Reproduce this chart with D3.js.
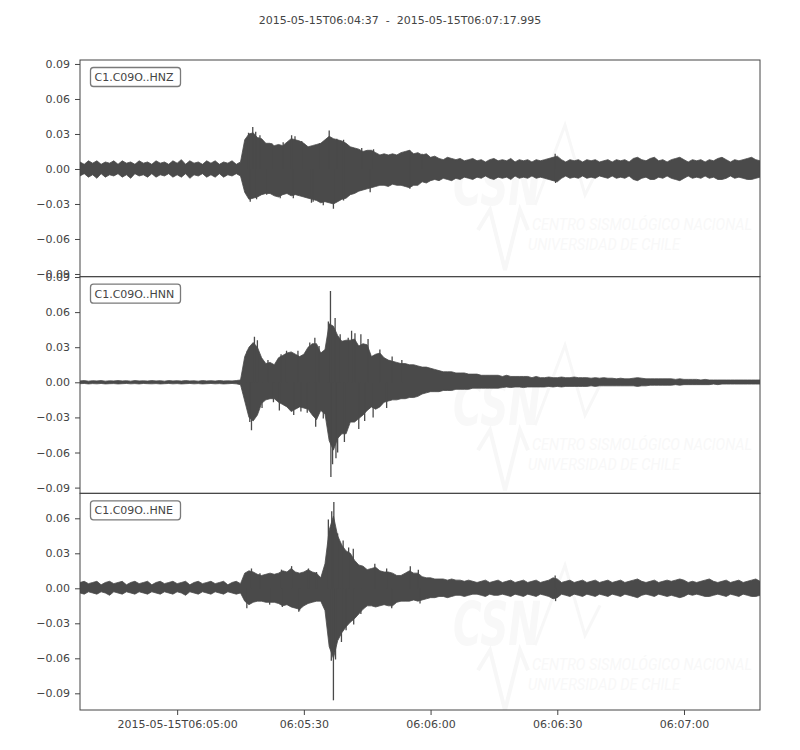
<!DOCTYPE html>
<html>
<head>
<meta charset="utf-8">
<script src="https://cdn.jsdelivr.net/npm/d3@7"></script>
<style>
body{margin:0;background:#fff;}
text{font-family:'DejaVu Sans',sans-serif;}
</style>
</head>
<body>
<div id="canvas"></div>
<script>
// trace window
var startTime = '2015-05-15T06:04:37Z',
    endTime = '2015-05-15T06:07:17.995Z';
var titleText = '2015-05-15T06:04:37  -  2015-05-15T06:07:17.995';
var traceIds = ['C1.C09O..HNZ','C1.C09O..HNN','C1.C09O..HNE'];
var yLimits = [[-0.0923,0.0934],[-0.0949,0.0903],[-0.1043,0.0814]];
var yTicks = [-0.09,-0.06,-0.03,0,0.03,0.06,0.09];
var xTicks = ['2015-05-15T06:05:00Z','2015-05-15T06:05:30Z','2015-05-15T06:06:00Z','2015-05-15T06:06:30Z','2015-05-15T06:07:00Z'];
var step = 1; // seconds between envelope samples

// envelope (max / min per second), m/s^2
var hnzMax = [
0.006,0.004,0.007,0.005,0.007,0.004,0.006,0.005,0.007,0.004,
0.007,0.005,0.006,0.004,0.007,0.005,0.006,0.004,0.007,0.005,
0.006,0.004,0.007,0.005,0.008,0.004,0.007,0.005,0.006,0.004,
0.007,0.005,0.007,0.004,0.006,0.005,0.007,0.004,0.006,0.025,
0.030,0.031,0.027,0.026,0.022,0.022,0.020,0.021,0.020,0.023,
0.026,0.025,0.024,0.022,0.019,0.020,0.021,0.022,0.025,0.028,
0.026,0.025,0.024,0.022,0.019,0.018,0.017,0.015,0.016,0.016,
0.014,0.012,0.013,0.012,0.013,0.012,0.014,0.015,0.016,0.013,
0.014,0.012,0.013,0.010,0.011,0.009,0.008,0.010,0.009,0.008,
0.009,0.007,0.008,0.009,0.007,0.008,0.006,0.008,0.009,0.007,
0.008,0.007,0.009,0.006,0.008,0.007,0.008,0.006,0.008,0.007,
0.008,0.009,0.010,0.011,0.008,0.006,0.008,0.007,0.008,0.006,
0.008,0.007,0.008,0.006,0.007,0.008,0.006,0.008,0.007,0.008,
0.006,0.009,0.010,0.008,0.007,0.009,0.010,0.007,0.008,0.006,
0.008,0.009,0.010,0.008,0.006,0.008,0.007,0.008,0.006,0.008,
0.007,0.009,0.010,0.008,0.006,0.008,0.007,0.008,0.009,0.010,
0.008,0.007];
var hnzMin = [
-0.006,-0.004,-0.007,-0.005,-0.008,-0.004,-0.007,-0.005,-0.006,-0.004,
-0.007,-0.005,-0.008,-0.004,-0.006,-0.005,-0.007,-0.004,-0.007,-0.005,
-0.006,-0.004,-0.007,-0.005,-0.007,-0.004,-0.008,-0.005,-0.006,-0.004,
-0.007,-0.005,-0.007,-0.004,-0.007,-0.005,-0.006,-0.004,-0.006,-0.020,
-0.026,-0.025,-0.024,-0.022,-0.021,-0.021,-0.023,-0.024,-0.022,-0.021,
-0.023,-0.022,-0.023,-0.024,-0.025,-0.026,-0.027,-0.029,-0.028,-0.029,
-0.030,-0.028,-0.026,-0.025,-0.022,-0.021,-0.019,-0.018,-0.017,-0.016,
-0.015,-0.014,-0.014,-0.015,-0.013,-0.014,-0.014,-0.015,-0.016,-0.014,
-0.014,-0.011,-0.012,-0.010,-0.009,-0.010,-0.008,-0.009,-0.010,-0.008,
-0.009,-0.007,-0.008,-0.009,-0.007,-0.008,-0.006,-0.008,-0.009,-0.007,
-0.008,-0.007,-0.009,-0.006,-0.008,-0.007,-0.008,-0.006,-0.008,-0.007,
-0.008,-0.009,-0.010,-0.011,-0.008,-0.006,-0.008,-0.007,-0.008,-0.006,
-0.008,-0.007,-0.008,-0.006,-0.007,-0.008,-0.006,-0.008,-0.007,-0.008,
-0.006,-0.009,-0.010,-0.008,-0.007,-0.009,-0.009,-0.007,-0.008,-0.006,
-0.008,-0.009,-0.010,-0.008,-0.006,-0.008,-0.007,-0.008,-0.006,-0.008,
-0.007,-0.009,-0.009,-0.008,-0.006,-0.008,-0.007,-0.008,-0.009,-0.009,
-0.008,-0.007];
var hnzSpikes = [[39.9,0.031],[40.3,-0.028],[40.9,0.036],[41.6,0.032],[41.8,-0.026],[42.6,0.029],
  [44.2,-0.022],[45.4,0.022],[47.4,-0.025],[48.1,0.023],[50.1,0.029],[50.5,-0.025],[50.9,0.028],
  [52.5,0.024],[54.8,-0.029],[55.2,-0.028],[56.8,0.022],[57.6,-0.031],[59.0,0.033],[60.0,-0.034],
  [60.8,0.026],[62.4,0.025],[62.4,-0.027],[66.7,0.018],[68.7,-0.020],[69.5,0.017],[78.1,0.016],
  [78.1,-0.017],[81.0,0.013],[112.5,0.013],[112.6,-0.012]];

var hnnMax = [
0.0012,0.0015,0.0010,0.0014,0.0012,0.0015,0.0010,0.0013,0.0012,0.0015,
0.0012,0.0014,0.0010,0.0015,0.0012,0.0013,0.0011,0.0015,0.0012,0.0014,
0.0010,0.0015,0.0012,0.0014,0.0011,0.0015,0.0012,0.0013,0.0010,0.0015,
0.0012,0.0014,0.0011,0.0015,0.0012,0.0013,0.0012,0.0015,0.002,0.022,
0.030,0.034,0.030,0.021,0.016,0.017,0.015,0.021,0.023,0.025,
0.026,0.024,0.022,0.024,0.030,0.033,0.033,0.025,0.028,0.050,
0.048,0.040,0.035,0.036,0.036,0.037,0.031,0.033,0.032,0.022,
0.024,0.025,0.021,0.019,0.018,0.017,0.016,0.016,0.015,0.015,
0.014,0.013,0.013,0.012,0.011,0.010,0.009,0.009,0.009,0.008,
0.008,0.008,0.007,0.007,0.007,0.006,0.006,0.006,0.006,0.006,
0.005,0.006,0.005,0.005,0.005,0.005,0.005,0.004,0.005,0.004,
0.004,0.0045,0.004,0.004,0.0045,0.004,0.004,0.0045,0.004,0.004,
0.004,0.0035,0.004,0.0035,0.004,0.0035,0.0035,0.003,0.0035,0.003,
0.003,0.0035,0.004,0.0035,0.003,0.003,0.003,0.003,0.003,0.003,
0.003,0.0025,0.003,0.0025,0.0025,0.0025,0.0025,0.002,0.0025,0.002,
0.002,0.002,0.002,0.002,0.002,0.002,0.002,0.002,0.002,0.002,
0.002,0.002];
var hnnMin = [
-0.0012,-0.0010,-0.0014,-0.0011,-0.0013,-0.0010,-0.0014,-0.0012,-0.0011,-0.0014,
-0.0012,-0.0010,-0.0013,-0.0011,-0.0014,-0.0010,-0.0012,-0.0013,-0.0011,-0.0014,
-0.0012,-0.0010,-0.0013,-0.0011,-0.0014,-0.0012,-0.0010,-0.0013,-0.0011,-0.0014,
-0.0012,-0.0010,-0.0013,-0.0011,-0.0014,-0.0012,-0.0010,-0.0013,-0.002,-0.016,
-0.030,-0.033,-0.028,-0.018,-0.015,-0.014,-0.014,-0.017,-0.019,-0.021,
-0.025,-0.023,-0.021,-0.022,-0.023,-0.028,-0.032,-0.024,-0.027,-0.050,
-0.058,-0.048,-0.044,-0.044,-0.034,-0.034,-0.031,-0.028,-0.024,-0.021,
-0.023,-0.021,-0.017,-0.016,-0.015,-0.015,-0.014,-0.014,-0.013,-0.013,
-0.012,-0.010,-0.009,-0.008,-0.008,-0.008,-0.007,-0.007,-0.007,-0.006,
-0.006,-0.006,-0.006,-0.005,-0.005,-0.005,-0.005,-0.005,-0.005,-0.005,
-0.0045,-0.004,-0.0045,-0.004,-0.004,-0.0045,-0.004,-0.004,-0.004,-0.004,
-0.004,-0.0035,-0.004,-0.0035,-0.004,-0.0035,-0.0035,-0.0035,-0.0035,-0.0035,
-0.0035,-0.003,-0.0035,-0.003,-0.003,-0.003,-0.003,-0.003,-0.003,-0.003,
-0.003,-0.003,-0.0035,-0.003,-0.003,-0.0025,-0.0025,-0.0025,-0.0025,-0.0025,
-0.0025,-0.002,-0.0025,-0.002,-0.002,-0.002,-0.002,-0.002,-0.002,-0.002,
-0.0015,-0.002,-0.0015,-0.0015,-0.0015,-0.0015,-0.0015,-0.0015,-0.0015,-0.0015,
-0.0015,-0.0015];
var hnnSpikes = [[39.6,0.027],[40.2,-0.034],[40.6,-0.041],[41.3,0.039],[42.0,0.036],[43.1,-0.022],
  [44.5,0.019],[45.8,-0.017],[47.2,-0.024],[47.6,0.024],[48.9,0.027],[50.6,-0.028],[51.6,0.027],
  [52.3,-0.025],[53.8,-0.026],[54.4,0.034],[55.6,0.038],[55.8,-0.038],[56.6,0.031],[57.6,-0.031],
  [58.8,0.052],[59.3,0.078],[59.4,-0.081],[59.8,-0.070],[60.4,0.055],[60.6,-0.065],[61.0,-0.060],
  [61.6,0.041],[62.6,-0.051],[63.5,0.038],[64.3,0.044],[65.1,0.042],[66.0,-0.040],[66.5,0.041],
  [67.4,-0.033],[68.2,0.037],[69.4,-0.030],[71.0,0.028],[72.6,-0.022],[73.9,0.022],[76.2,0.019]];

var hneMax = [
0.005,0.006,0.004,0.005,0.006,0.003,0.005,0.006,0.004,0.005,
0.006,0.003,0.005,0.006,0.004,0.005,0.006,0.003,0.005,0.006,
0.004,0.005,0.006,0.004,0.005,0.006,0.003,0.005,0.006,0.004,
0.005,0.006,0.004,0.005,0.006,0.003,0.005,0.006,0.004,0.013,
0.015,0.014,0.012,0.011,0.012,0.013,0.012,0.013,0.015,0.014,
0.017,0.014,0.013,0.014,0.016,0.014,0.013,0.009,0.021,0.050,
0.062,0.045,0.037,0.032,0.030,0.024,0.020,0.019,0.016,0.017,
0.018,0.015,0.014,0.014,0.013,0.011,0.011,0.013,0.015,0.013,
0.013,0.010,0.009,0.009,0.008,0.008,0.008,0.007,0.008,0.007,
0.007,0.006,0.007,0.006,0.005,0.006,0.007,0.005,0.006,0.007,
0.005,0.006,0.007,0.005,0.006,0.007,0.005,0.006,0.007,0.005,
0.006,0.007,0.009,0.008,0.005,0.006,0.007,0.005,0.006,0.007,
0.005,0.006,0.007,0.005,0.006,0.007,0.005,0.006,0.007,0.005,
0.006,0.007,0.008,0.006,0.005,0.006,0.007,0.005,0.006,0.007,
0.006,0.007,0.008,0.007,0.005,0.006,0.005,0.006,0.007,0.008,
0.006,0.005,0.006,0.007,0.005,0.006,0.007,0.005,0.006,0.007,
0.008,0.006];
var hneMin = [
-0.004,-0.005,-0.003,-0.004,-0.005,-0.003,-0.004,-0.006,-0.003,-0.004,
-0.005,-0.003,-0.004,-0.005,-0.003,-0.004,-0.005,-0.003,-0.004,-0.005,
-0.003,-0.004,-0.005,-0.003,-0.004,-0.006,-0.003,-0.004,-0.005,-0.003,
-0.004,-0.005,-0.003,-0.004,-0.005,-0.003,-0.004,-0.005,-0.004,-0.011,
-0.014,-0.012,-0.011,-0.011,-0.012,-0.012,-0.012,-0.013,-0.015,-0.014,
-0.016,-0.017,-0.018,-0.015,-0.013,-0.012,-0.011,-0.011,-0.019,-0.050,
-0.060,-0.045,-0.038,-0.033,-0.029,-0.026,-0.022,-0.018,-0.015,-0.015,
-0.016,-0.015,-0.014,-0.015,-0.015,-0.012,-0.011,-0.011,-0.011,-0.010,
-0.011,-0.010,-0.009,-0.008,-0.008,-0.007,-0.007,-0.008,-0.007,-0.006,
-0.006,-0.007,-0.006,-0.005,-0.005,-0.006,-0.007,-0.005,-0.006,-0.006,
-0.005,-0.006,-0.007,-0.005,-0.006,-0.007,-0.005,-0.006,-0.007,-0.005,
-0.006,-0.007,-0.009,-0.008,-0.005,-0.006,-0.007,-0.005,-0.006,-0.007,
-0.005,-0.006,-0.007,-0.005,-0.006,-0.007,-0.005,-0.006,-0.007,-0.005,
-0.006,-0.007,-0.008,-0.006,-0.005,-0.006,-0.007,-0.005,-0.006,-0.007,
-0.006,-0.007,-0.008,-0.007,-0.005,-0.006,-0.005,-0.006,-0.007,-0.007,
-0.006,-0.005,-0.006,-0.007,-0.005,-0.006,-0.007,-0.005,-0.006,-0.007,
-0.007,-0.006];
var hneSpikes = [[39.5,-0.017],[40.6,0.017],[42.6,0.013],[44.9,-0.014],[47.7,0.016],[47.9,-0.016],
  [50.1,0.019],[51.8,-0.020],[52.0,-0.019],[54.1,0.017],[56.0,0.014],[58.8,0.059],[59.6,0.066],
  [60.1,0.074],[60.0,-0.096],[59.5,-0.062],[60.5,-0.061],[61.0,0.047],[61.9,-0.046],[62.3,0.041],
  [63.0,-0.036],[63.6,0.035],[64.7,0.034],[64.8,-0.031],[66.5,-0.022],[69.8,0.021],[72.6,0.017],
  [73.8,-0.017],[78.2,0.019],[80.1,0.016],[80.5,-0.013],[112.5,0.011],[112.6,-0.011]];

var traceMax = [hnzMax, hnnMax, hneMax],
    traceMin = [hnzMin, hnnMin, hneMin],
    traceSpikes = [hnzSpikes, hnnSpikes, hneSpikes];

// layout
var W = 800, H = 750;
var m = {t:60, r:40, b:40, l:80};
var w = W - m.l - m.r,
    panelH = (H - m.t - m.b) / 3;
var ink = '#4a4a4a', textCol = '#444';

var svg = d3.select('#canvas')
    .append('svg')
    .attr('width', W)
    .attr('height', H);

var t0 = new Date(startTime);
var scaleX = d3.scaleUtc()
    .domain([t0, new Date(endTime)])
    .range([0, w]);

function secToDate(s){ return new Date(t0.getTime() + s*1000); }

svg.append('text')
    .attr('x', W/2)
    .attr('y', 24)
    .attr('text-anchor', 'middle')
    .style('font-size', '11px')
    .style('fill', textCol)
    .style('white-space', 'pre')
    .text(titleText);

var defs = svg.append('defs');

traceIds.forEach(function(id, i){
    var top = m.t + i*panelH;
    var plot = svg.append('g')
        .attr('transform', 'translate(' + m.l + ',' + top + ')');

    defs.append('clipPath').attr('id', 'clip' + i)
        .append('rect').attr('width', w).attr('height', panelH);

    var scaleY = d3.scaleLinear()
        .domain(yLimits[i])
        .range([panelH, 0]);

    var body = plot.append('g').attr('clip-path', 'url(#clip' + i + ')');

    // faint watermark of the network
    var wm = body.append('g')
        .attr('transform', 'translate(0,' + (3.5*i) + ')')
        .style('fill', '#f8f8f8').style('stroke', '#f7f7f7');
    wm.append('text')
        .attr('x', 373).attr('y', 145)
        .attr('textLength', 88).attr('lengthAdjust', 'spacingAndGlyphs')
        .style('font-size', '60px').style('font-weight', 'bold').style('font-style', 'italic')
        .style('stroke', 'none')
        .text('CSN');
    wm.append('polyline')
        .attr('points', '455,145 485,65 505,135 520,105')
        .style('fill', 'none').style('stroke-width', 3);
    wm.append('polyline')
        .attr('points', '398,170 410,150 425,210 440,150 448,170')
        .style('fill', 'none').style('stroke-width', 4);
    wm.append('text')
        .attr('x', 452).attr('y', 170)
        .attr('textLength', 220).attr('lengthAdjust', 'spacingAndGlyphs')
        .style('font-size', '16px').style('font-style', 'italic').style('stroke', 'none')
        .style('font-family', "'Liberation Sans Narrow','Roboto',sans-serif")
        .text('CENTRO SISMOLÓGICO NACIONAL');
    wm.append('text')
        .attr('x', 448).attr('y', 190)
        .attr('textLength', 152).attr('lengthAdjust', 'spacingAndGlyphs')
        .style('font-size', '16px').style('font-style', 'italic').style('stroke', 'none')
        .style('font-family', "'Liberation Sans Narrow','Roboto',sans-serif")
        .text('UNIVERSIDAD DE CHILE');

    // waveform envelope
    var rows = traceMax[i].map(function(v, k){
        return {time: secToDate(k*step), hi: v, lo: traceMin[i][k]};
    });
    var area = d3.area()
        .x(function(d){ return scaleX(d.time); })
        .y0(function(d){ return scaleY(d.lo); })
        .y1(function(d){ return scaleY(d.hi); });
    body.append('path')
        .datum(rows)
        .attr('d', area)
        .style('fill', ink)
        .style('stroke', ink)
        .style('stroke-width', 0.8);

    body.selectAll('.spike')
        .data(traceSpikes[i])
        .enter()
        .append('line')
        .attr('class', 'spike')
        .attr('x1', function(d){ return scaleX(secToDate(d[0])); })
        .attr('x2', function(d){ return scaleX(secToDate(d[0])); })
        .attr('y1', scaleY(0))
        .attr('y2', function(d){ return scaleY(d[1]); })
        .style('stroke', ink)
        .style('stroke-width', 1.3);

    // y axis
    var lim = yLimits[i];
    var axisY = d3.axisLeft(scaleY)
        .tickValues(yTicks.filter(function(v){ return v >= lim[0] && v <= lim[1]; }))
        .tickFormat(d3.format('.2f'))
        .tickSize(5)
        .tickPadding(5);
    var gy = plot.append('g').attr('class', 'axis axis-y').call(axisY);
    gy.select('.domain').remove();
    gy.selectAll('line').style('stroke', textCol);
    gy.selectAll('text').style('font-size', '11px').style('fill', textCol)
        .style('font-family', "'DejaVu Sans',sans-serif");

    // frame
    plot.append('rect')
        .attr('width', w).attr('height', panelH)
        .style('fill', 'none').style('stroke', textCol).style('stroke-width', 1);

    // trace id box
    plot.append('rect')
        .attr('x', 10.5).attr('y', 7.5)
        .attr('width', 90).attr('height', 19).attr('rx', 3)
        .style('fill', '#fff').style('stroke', '#7a7a7a').style('stroke-width', 1.3);
    plot.append('text')
        .attr('x', 14.5).attr('y', 21)
        .style('font-size', '11px').style('fill', textCol)
        .text(id);

    if(i === traceIds.length - 1){
        var fmtFull = d3.utcFormat('%Y-%m-%dT%H:%M:%S'),
            fmtShort = d3.utcFormat('%H:%M:%S');
        var axisX = d3.axisBottom(scaleX)
            .tickValues(xTicks.map(function(s){ return new Date(s); }))
            .tickFormat(function(d, k){ return k === 0 ? fmtFull(d) : fmtShort(d); })
            .tickSize(5)
            .tickPadding(5);
        var gx = plot.append('g').attr('class', 'axis axis-x')
            .attr('transform', 'translate(0,' + panelH + ')')
            .call(axisX);
        gx.select('.domain').remove();
        gx.selectAll('line').style('stroke', textCol);
        gx.selectAll('text').style('font-size', '11px').style('fill', textCol)
            .style('font-family', "'DejaVu Sans',sans-serif");
    }
});
</script>
</body>
</html>
